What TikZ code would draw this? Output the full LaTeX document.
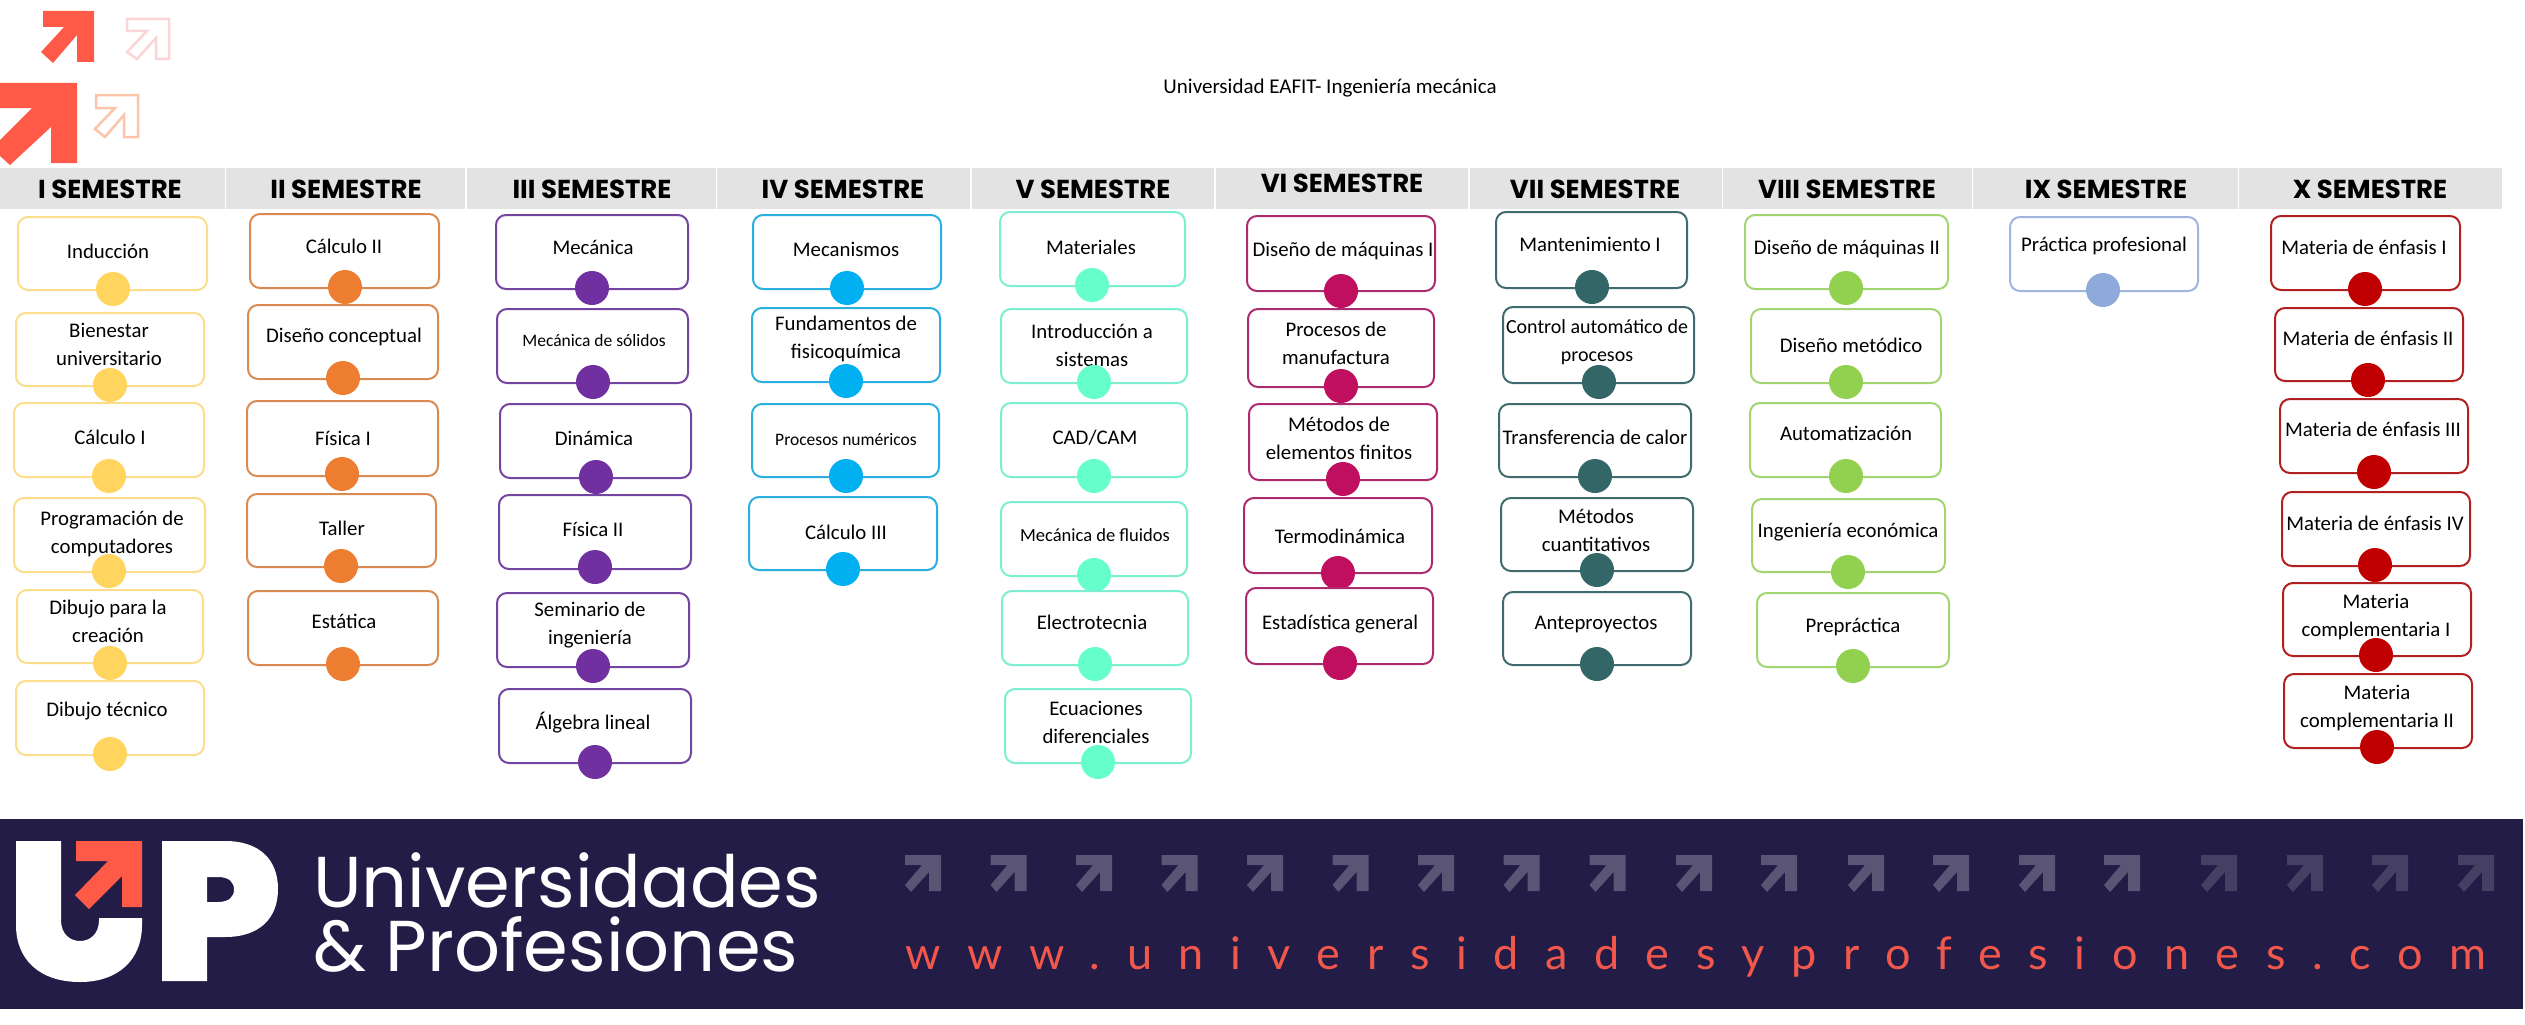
\documentclass[tikz,border=0pt]{standalone}
\usepackage{fontspec}
\usetikzlibrary{fit,shapes.geometric}
\setmainfont{Carlito}
\newfontfamily\headf{Poppins}
\newfontfamily\brandf{Poppins}
\newfontfamily\urlf[LetterSpace=59]{Lato}
\definecolor{yelS}{HTML}{FBDD8B}\definecolor{yelD}{HTML}{FFD45F}
\definecolor{oraS}{HTML}{D98A50}\definecolor{oraD}{HTML}{ED7D31}
\definecolor{purS}{HTML}{7445A0}\definecolor{purD}{HTML}{7030A0}
\definecolor{bluS}{HTML}{2AAFDF}\definecolor{bluD}{HTML}{00B0F0}
\definecolor{teaS}{HTML}{7CEFD0}\definecolor{teaD}{HTML}{66FFCC}
\definecolor{magS}{HTML}{AB2B6E}\definecolor{magD}{HTML}{C00F5E}
\definecolor{dteS}{HTML}{3F6B6E}\definecolor{dteD}{HTML}{336666}
\definecolor{greS}{HTML}{A2D56F}\definecolor{greD}{HTML}{92D050}
\definecolor{lblS}{HTML}{9FB5DC}\definecolor{lblD}{HTML}{8EAADB}
\definecolor{redS}{HTML}{B02020}\definecolor{redD}{HTML}{C00000}
\definecolor{bandC}{HTML}{221C46}\definecolor{coral}{HTML}{FF5A47}
\definecolor{headC}{HTML}{E3E3E3}\definecolor{urlC}{HTML}{F2574B}
\definecolor{arrA}{HTML}{5A5475}\definecolor{arrB}{HTML}{453F63}
\definecolor{pinkL}{HTML}{FBD5D5}\definecolor{peachL}{HTML}{FCC4A8}
\tikzset{
  x=1pt,y=-1pt,
  coursebox/.style={draw=#1,line width=2pt,rounded corners=10pt,inner sep=0pt,fill=white},
  coursedot/.style={ellipse,fill=#1,draw=none,minimum width=34pt,minimum height=34pt,inner sep=0pt},
  coursetext/.style={align=center,inner sep=0pt,font=\fontsize{20.8}{28}\selectfont},
  smalltext/.style={font=\fontsize{17.5}{24}\selectfont},
  midtext/.style={font=\fontsize{18.5}{24}\selectfont},
  tighttext/.style={font=\fontsize{20}{28}\selectfont},
  headband/.style={fill=headC,draw=none,inner sep=0pt},
  headtext/.style={inner sep=0pt,font=\headf\bfseries\fontsize{26}{30}\selectfont},
  brand/.style={inner sep=0pt,anchor=base west,text=white,font=\brandf\fontsize{72}{80}\selectfont},
}
% #1 name, #2 corner, #3 corner, #4 dot centre, #5 text centre, #6 colour key, #7 text style, #8 text
\newcommand{\cbox}[8]{%
  \coordinate (a#1) at (#2);\coordinate (c#1) at (#3);
  \node[coursebox=#6S,fit=(a#1)(c#1)] (b#1) {};
  \node[coursetext,#7] (t#1) at (#5) {#8};
  \node[coursedot=#6D] (d#1) at (#4) {};
}
% #1 name, #2 left, #3 right, #4 text x, #5 text y, #6 text
\newcommand{\hband}[6]{%
  \coordinate (ha#1) at (#2,168);\coordinate (hc#1) at (#3,209);
  \node[headband,fit=(ha#1)(hc#1)] (h#1) {};
  \node[headtext] (ht#1) at (#4,#5) {#6};
}
\newcommand{\bandarrow}[2]{%
  \fill[#2,shift={(#1,855)}] (0,0)--(36,0)--(36,36)--(24,36)--(24,17)--(6,37)--(0,30)--(17,10)--(0,10)--cycle;
}
\begin{document}
\begin{tikzpicture}
\useasboundingbox (0,0) rectangle (2525,1025);
\fill[white] (0,0) rectangle (2525,1025);
% top logo arrows
\fill[coral] (43,11)--(94,11)--(94,62)--(77,62)--(77,35)--(53,63)--(41,52)--(64,27)--(43,27)--cycle;
\fill[coral] (0,83)--(77,83)--(77,163)--(51,163)--(51,127)--(10,165)--(0,156)--(0,140)--(32,108)--(0,108)--cycle;
\draw[pinkL,line width=2.5pt] (127,19)--(169,19)--(169,59)--(156,59)--(156,38)--(137,59)--(127,52)--(147,31)--(127,31)--cycle;
\draw[peachL,line width=2.5pt] (96,95)--(138,95)--(138,137)--(124,137)--(124,115)--(105,137)--(95,129)--(115,108)--(96,108)--cycle;
\node[inner sep=0pt,font=\fontsize{21}{26}\selectfont] (title) at (1330,88) {Universidad EAFIT- Ingeniería mecánica};
% headers
\hband{1}{0}{225}{110}{189}{I SEMESTRE}
\hband{2}{226}{465}{346}{189}{II SEMESTRE}
\hband{3}{467}{716}{592}{189}{III SEMESTRE}
\hband{4}{717}{970}{843}{189}{IV SEMESTRE}
\hband{5}{972}{1214}{1093}{189}{V SEMESTRE}
\hband{6}{1216}{1468}{1342}{183}{VI SEMESTRE}
\hband{7}{1470}{1722}{1595}{189}{VII SEMESTRE}
\hband{8}{1723}{1972}{1847}{189}{VIII SEMESTRE}
\hband{9}{1973}{2238}{2106}{189}{IX SEMESTRE}
\hband{10}{2239}{2502}{2370}{189}{X SEMESTRE}
% I
\cbox{a1}{18,217}{207,290}{113,289}{108,251}{yel}{}{Inducción}
\cbox{a2}{16,313}{204,386}{110,385}{109,344}{yel}{}{Bienestar\\universitario}
\cbox{a3}{14,403}{204,477}{109,476}{110,437}{yel}{}{Cálculo I}
\cbox{a4}{14,498}{205,572}{109,571}{112,534}{yel}{}{Programación de\\computadores}
\cbox{a5}{17,590}{203,663}{110,663}{108,621}{yel}{}{Dibujo para la\\creación}
\cbox{a6}{16,681}{204,755}{110,754}{107,711}{yel}{}{Dibujo técnico}
% II
\cbox{b1}{250,214}{439,288}{345,287}{344,246}{ora}{}{Cálculo II}
\cbox{b2}{248,305}{438,379}{343,378}{344,337}{ora}{}{Diseño conceptual}
\cbox{b3}{247,401}{438,476}{342,474}{343,438}{ora}{}{Física I}
\cbox{b4}{247,494}{436,567}{341,566}{342,528}{ora}{}{Taller}
\cbox{b5}{248,591}{438,665}{343,664}{344,621}{ora}{}{Estática}
% III
\cbox{c1}{496,215}{688,289}{592,288}{593,247}{pur}{}{Mecánica}
\cbox{c2}{497,309}{688,383}{593,382}{594,340}{pur}{smalltext}{Mecánica de sólidos}
\cbox{c3}{500,404}{691,478}{596,477}{594,438}{pur}{}{Dinámica}
\cbox{c4}{499,495}{691,569}{595,567}{593,529}{pur}{}{Física II}
\cbox{c5}{497,593}{689,667}{593,666}{590,625}{pur}{}{Seminario de\\ingeniería}
\cbox{c6}{499,689}{691,763}{595,762}{593,723}{pur}{}{Álgebra lineal}
% IV
\cbox{d1}{753,215}{941,289}{847,288}{846,249}{blu}{}{Mecanismos}
\cbox{d2}{752,308}{940,382}{846,381}{846,339}{blu}{}{Fundamentos de\\fisicoquímica}
\cbox{d3}{752,404}{939,477}{846,476}{846,440}{blu}{smalltext}{Procesos numéricos}
\cbox{d4}{749,497}{937,570}{843,569}{846,532}{blu}{}{Cálculo III}
% V
\cbox{e1}{1000,212}{1185,286}{1092,285}{1091,247}{tea}{}{Materiales}
\cbox{e2}{1001,309}{1187,383}{1094,382}{1092,345}{tea}{}{Introducción a\\sistemas}
\cbox{e3}{1001,403}{1187,477}{1094,476}{1095,438}{tea}{}{CAD/CAM}
\cbox{e4}{1001,502}{1187,576}{1094,575}{1095,535}{tea}{midtext}{Mecánica de fluidos}
\cbox{e5}{1002,591}{1188,665}{1095,664}{1092,622}{tea}{}{Electrotecnia}
\cbox{e6}{1005,689}{1191,763}{1098,762}{1096,722}{tea}{}{Ecuaciones\\diferenciales}
% VI
\cbox{f1}{1247,216}{1435,291}{1341,291}{1343,251}{mag}{}{Diseño de máquinas I}
\cbox{f2}{1248,309}{1434,387}{1341,386}{1336,343}{mag}{}{Procesos de\\manufactura}
\cbox{f3}{1249,404}{1437,480}{1343,479}{1339,438}{mag}{}{Métodos de\\elementos finitos}
\cbox{f4}{1244,498}{1432,573}{1338,573}{1340,536}{mag}{}{Termodinámica}
\cbox{f5}{1246,588}{1433,664}{1340,663}{1340,624}{mag}{}{Estadística general}
% VII
\cbox{g1}{1496,212}{1687,288}{1592,287}{1590,244}{dte}{}{Mantenimiento I}
\cbox{g2}{1503,307}{1694,383}{1599,382}{1597,342}{dte}{tighttext}{Control automático de\\procesos}
\cbox{g3}{1499,404}{1691,477}{1595,476}{1595,437}{dte}{}{Transferencia de calor}
\cbox{g4}{1501,498}{1693,571}{1597,570}{1596,530}{dte}{}{Métodos\\cuantitativos}
\cbox{g5}{1503,592}{1691,665}{1597,664}{1596,624}{dte}{}{Anteproyectos}
% VIII
\cbox{h1}{1745,215}{1948,289}{1846,288}{1847,249}{gre}{}{Diseño de máquinas II}
\cbox{h2}{1751,309}{1941,383}{1846,382}{1851,345}{gre}{}{Diseño metódico}
\cbox{h3}{1750,403}{1941,477}{1846,476}{1846,433}{gre}{}{Automatización}
\cbox{h4}{1752,499}{1945,572}{1848,572}{1848,532}{gre}{}{Ingeniería económica}
\cbox{h5}{1757,593}{1949,667}{1853,666}{1853,627}{gre}{}{Prepráctica}
% IX
\cbox{i1}{2010,217}{2198,291}{2103,290}{2104,246}{lbl}{}{Práctica profesional}
% X
\cbox{j1}{2271,216}{2460,290}{2365,289}{2364,247}{red}{}{Materia de énfasis I}
\cbox{j2}{2275,308}{2463,381}{2368,380}{2368,338}{red}{}{Materia de énfasis II}
\cbox{j3}{2280,399}{2468,473}{2374,472}{2373,429}{red}{}{Materia de énfasis III}
\cbox{j4}{2282,492}{2470,566}{2375,565}{2375,523}{red}{}{Materia de énfasis IV}
\cbox{j5}{2283,583}{2471,656}{2376,655}{2376,617}{red}{}{Materia\\complementaria I}
\cbox{j6}{2284,674}{2472,748}{2377,747}{2377,708}{red}{}{Materia\\complementaria II}
% bottom band
\fill[bandC] (0,819) rectangle (2523,1009);
\fill[white] (16,841)--(61,841)--(61,920) .. controls (61,934) and (70,941) .. (80,941) .. controls (90,941) and (99,934) .. (99,920)--(99,918)--(142,918)--(142,925) .. controls (142,960) and (118,982) .. (80,982) .. controls (40,982) and (16,960) .. (16,925)--cycle;
\fill[coral] (76,841)--(142,841)--(142,907)--(122,907)--(122,876)--(89,909)--(75,895)--(108,861)--(76,861)--cycle;
\fill[white,even odd rule] (162,841)--(225,841) .. controls (260,841) and (278,860) .. (278,889) .. controls (278,918) and (260,937) .. (225,937)--(207,937)--(207,981)--(162,981)--cycle
  (207,877)--(218,877) .. controls (229,877) and (234,882) .. (234,889.5) .. controls (234,897) and (229,902) .. (218,902)--(207,902)--cycle;
\node[brand] (uni) at (313,907) {Universidades};
\node[brand] (pro) at (313,971) {\&\ Profesiones};
\foreach \ax in {905,990.5,1076,1161.5,1247,1332.5,1418,1503.5,1589.5,1676,1761,1848,1933,2019,2104}{\bandarrow{\ax}{arrA}}
\foreach \ax in {2201,2287,2372,2458}{\bandarrow{\ax}{arrB}}
\node[inner sep=0pt,anchor=base west,text=urlC,font=\urlf\fontsize{45}{50}\selectfont] (url) at (905,969) {www.universidadesyprofesiones.com};
\end{tikzpicture}
\end{document}
